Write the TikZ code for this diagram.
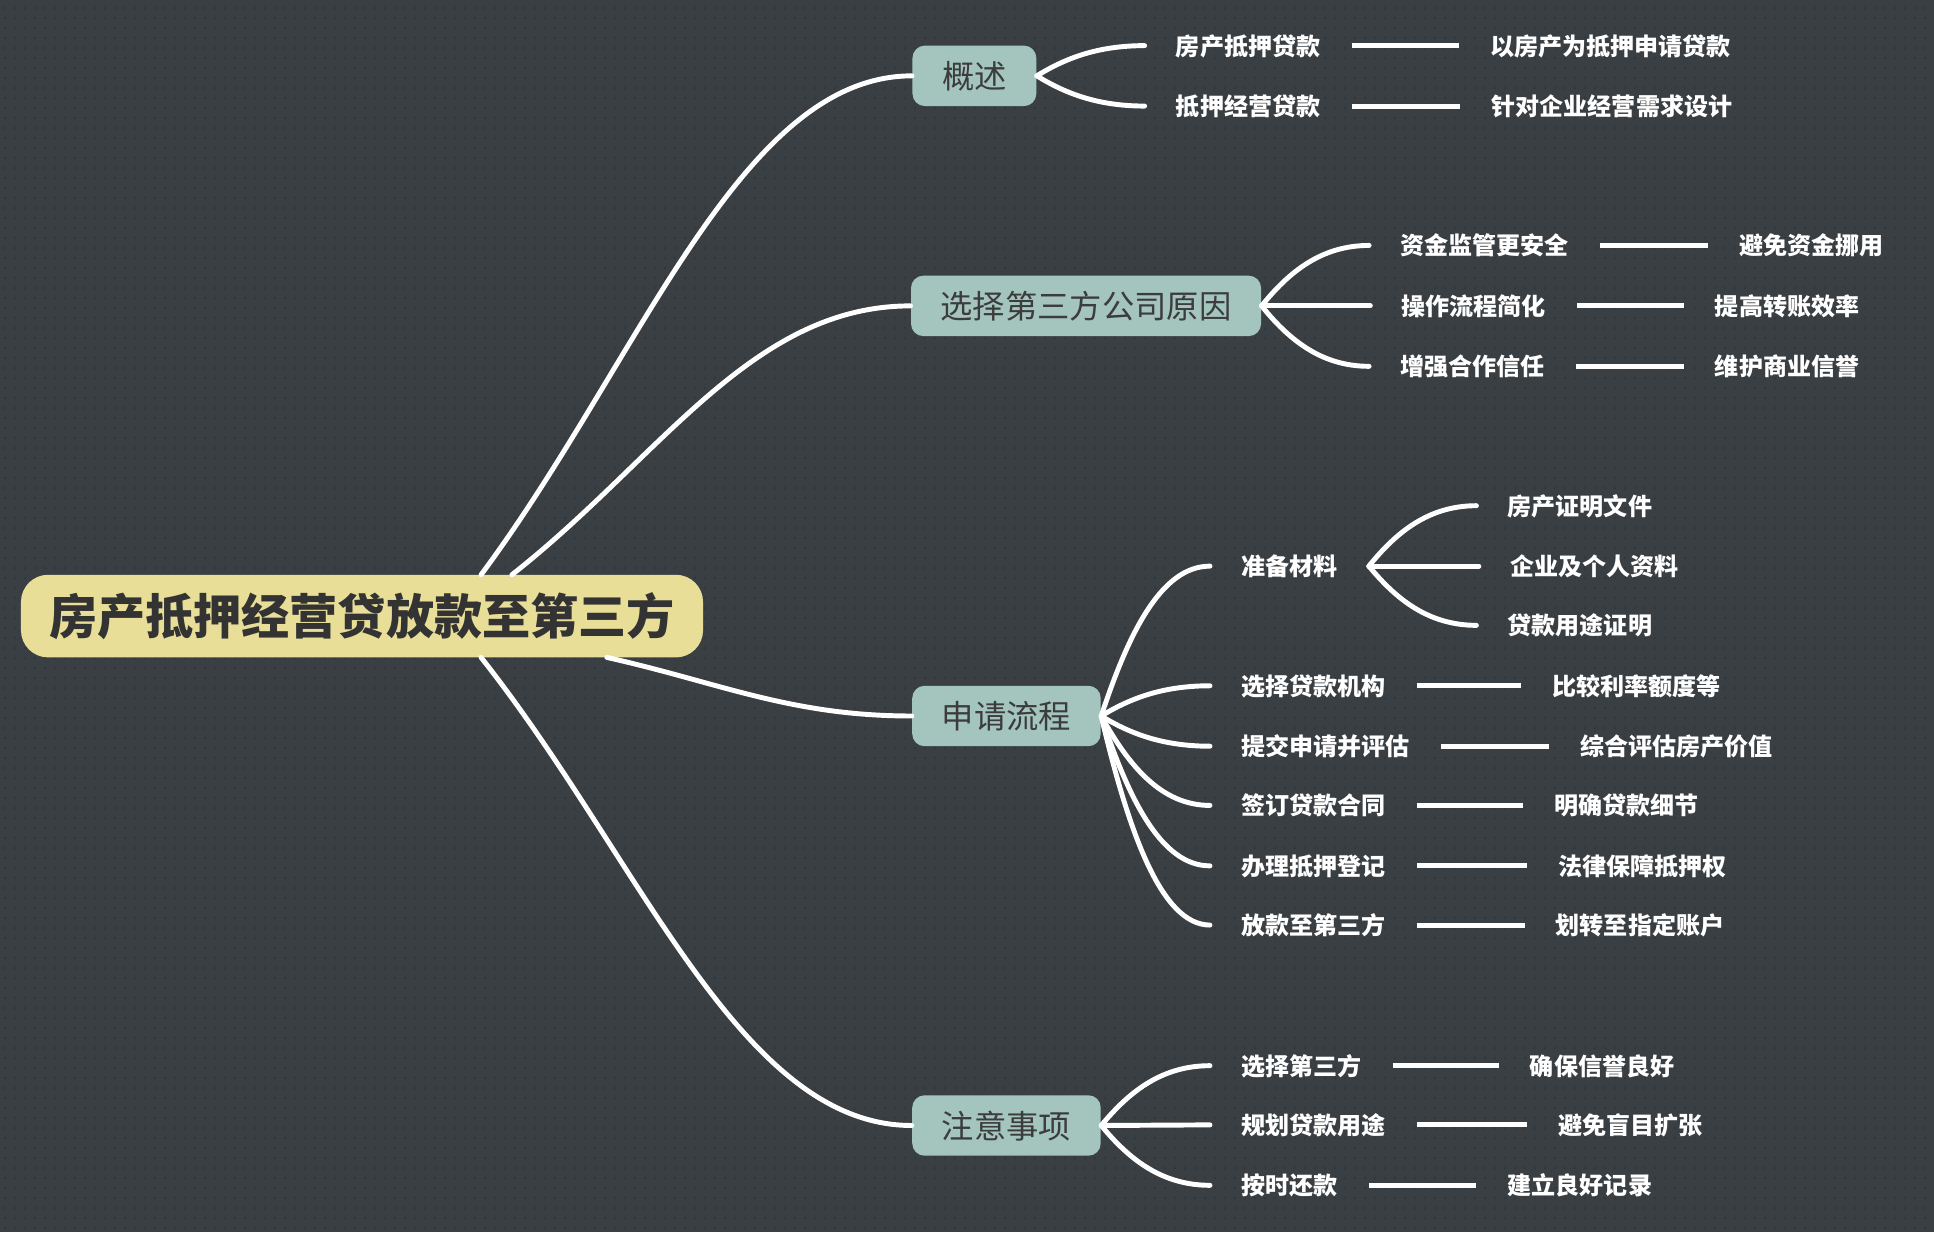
\documentclass[tikz,border=0pt]{standalone}
\usepackage{fontspec}
\newfontfamily\cjk{Noto Sans CJK SC}
\usetikzlibrary{calc,patterns.meta}
\definecolor{bgc}{HTML}{3A3F43}
\definecolor{dotc}{HTML}{32373B}
\definecolor{rootfill}{HTML}{E8DE98}
\definecolor{l1fill}{HTML}{A3C5BD}
\definecolor{darktxt}{HTML}{333333}
\definecolor{l1txt}{HTML}{3C3C3C}
\tikzdeclarepattern{name=bgdots, type=colored,
  bounding box={(0pt,0pt) and (4.05pt,4.05pt)},
  tile size={(4.05pt,4.05pt)},
  code={\fill[dotc] (2pt,2pt) circle (0.6pt);}}
\tikzset{
  rootbox/.style={fill=rootfill, text=darktxt, rounded corners=11pt, inner xsep=11.5pt, inner ysep=0pt,
    minimum height=33.5pt, font=\cjk\bfseries\fontsize{19.5pt}{21pt}\selectfont, text height=16.6pt, text depth=1.4pt},
  topicbox/.style={fill=l1fill, text=l1txt, rounded corners=5pt, inner xsep=12pt, inner ysep=0pt,
    minimum height=24.5pt, font=\cjk\fontsize{13.1pt}{15pt}\selectfont, text height=11.1pt, text depth=0.9pt},
  leaf/.style={anchor=west, text=white, inner xsep=12.5pt, inner ysep=0pt,
    font=\cjk\bfseries\fontsize{9.75pt}{12pt}\selectfont, text height=8.3pt, text depth=0.7pt},
  conn/.style={draw=white, line width=2pt, line cap=round},
  curvy/.style n args={3}{to path={let \p1=(\tikztostart), \p2=(\tikztotarget) in
    .. controls ({\x1+#1*(\x2-\x1)},{\y1+#2*(\y2-\y1)}) and ({\x1+#3*(\x2-\x1)},\y2) .. (\tikztotarget)}},
  rootcurve/.style={curvy={0.37}{0.43}{0.6}},
  fancurve/.style={curvy={0.25}{0.55}{0.55}}
}
\begin{document}
\begin{tikzpicture}[x=0.5pt,y=-0.5pt]
\useasboundingbox (0,0) rectangle (1568,999);
\fill[bgc] (0,0) rectangle (1568,999);
\fill[pattern=bgdots] (0,0) rectangle (1568,999);

% root and main topics
\node[rootbox] (root) at (293.5,499.5) {房产抵押经营贷放款至第三方};
\node[topicbox] (n1) at (790,61.5) {概述};
\node[topicbox] (n2) at (880.5,248) {选择第三方公司原因};
\node[topicbox] (n3) at (816,580.5) {申请流程};
\node[topicbox] (n4) at (816,912.5) {注意事项};

\coordinate (r1) at (390,466);
\coordinate (r2) at (415,466);
\coordinate (r3) at (492,533);
\coordinate (r4) at (390,533);

% leaves
\node[leaf] (a1) at (928,37) {房产抵押贷款};
\node[leaf] (b1) at (1183,37) {以房产为抵押申请贷款};
\node[leaf] (a2) at (928,86) {抵押经营贷款};
\node[leaf] (b2) at (1184,86) {针对企业经营需求设计};

\node[leaf] (c1) at (1110,199) {资金监管更安全};
\node[leaf] (d1) at (1385,199) {避免资金挪用};
\node[leaf] (c2) at (1111,248) {操作流程简化};
\node[leaf] (d2) at (1365,248) {提高转账效率};
\node[leaf] (c3) at (1110,297) {增强合作信任};
\node[leaf] (d3) at (1365,297) {维护商业信誉};

\node[leaf] (e0) at (981,459) {准备材料};
\node[leaf] (f1) at (1197,410) {房产证明文件};
\node[leaf] (f2) at (1199,459) {企业及个人资料};
\node[leaf] (f3) at (1197,507) {贷款用途证明};
\node[leaf] (e1) at (981,556) {选择贷款机构};
\node[leaf] (g1) at (1233,556) {比较利率额度等};
\node[leaf] (e2) at (981,605) {提交申请并评估};
\node[leaf] (g2) at (1256,605) {综合评估房产价值};
\node[leaf] (e3) at (981,653) {签订贷款合同};
\node[leaf] (g3) at (1235,653) {明确贷款细节};
\node[leaf] (e4) at (981,702) {办理抵押登记};
\node[leaf] (g4) at (1238,702) {法律保障抵押权};
\node[leaf] (e5) at (981,750) {放款至第三方};
\node[leaf] (g5) at (1236,750) {划转至指定账户};

\node[leaf] (h1) at (981,864) {选择第三方};
\node[leaf] (i1) at (1215,864) {确保信誉良好};
\node[leaf] (h2) at (981,912) {规划贷款用途};
\node[leaf] (i2) at (1238,912) {避免盲目扩张};
\node[leaf] (h3) at (981,961) {按时还款};
\node[leaf] (i3) at (1197,961) {建立良好记录};

% root connectors
\draw[conn] (r1) to[rootcurve] (n1.west);
\draw[conn] (r2) to[rootcurve] (n2.west);
\draw[conn] (r3) to[rootcurve] (n3.west);
\draw[conn] (r4) to[rootcurve] (n4.west);

% fans
\foreach \p/\c in {n1/a1, n1/a2, n2/c1, n2/c3, n3/e0, n3/e1, n3/e2, n3/e3, n3/e4, n3/e5, n4/h1, n4/h3, e0/f1, e0/f3}
  \draw[conn] (\p.east) to[fancurve] (\c.west);
\draw[conn] (n2.east) -- (c2.west);
\draw[conn] (n4.east) -- (h2.west);
\draw[conn] (e0.east) -- (f2.west);

% horizontal links
\foreach \a/\b in {a1/b1, a2/b2, c1/d1, c2/d2, c3/d3, e1/g1, e2/g2, e3/g3, e4/g4, e5/g5, h1/i1, h2/i2, h3/i3}
  \draw[conn, line cap=butt] (\a.east) -- (\b.west);
\end{tikzpicture}
\end{document}
